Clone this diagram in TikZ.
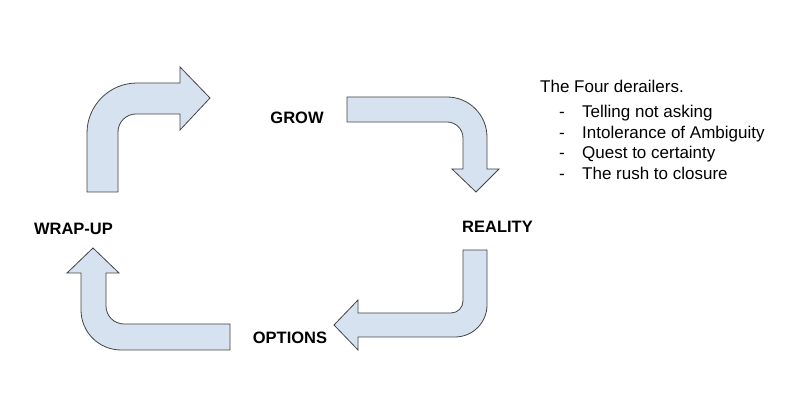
\documentclass[tikz,border=0pt]{standalone}
\usepackage{fontspec}
\setmainfont{Liberation Sans}
\definecolor{arrowfill}{HTML}{D6E2F0}
\definecolor{arrowline}{HTML}{444444}
\begin{document}
\begin{tikzpicture}[
			x=1pt, y=1pt,
			bendarrow/.style={fill=arrowfill, draw=arrowline, line width=0.8pt, line join=miter},
			stage/.style={font=\fontsize{16.5}{18}\selectfont\bfseries, inner sep=0pt},
			note/.style={font=\fontsize{17}{19}\selectfont, anchor=base west, inner sep=0pt}
		]
		\useasboundingbox (0,0) rectangle (798,406);
		\draw[bendarrow] (87,214) -- (87,273) arc[start angle=180,end angle=90,radius=50]
			-- (180,323) -- (180,339) -- (210,308) -- (180,276) -- (180,292) -- (136,292)
			arc[start angle=90,end angle=180,radius=18] -- (118,214) -- cycle;
		\draw[bendarrow] (347,309) -- (447,309) arc[start angle=90,end angle=0,radius=40]
			-- (487,237) -- (499,237) -- (476,214) -- (452,237) -- (463,237) -- (463,268)
			arc[start angle=0,end angle=90,radius=16] -- (347,284) -- cycle;
		\draw[bendarrow] (487,156) -- (487,101) arc[start angle=0,end angle=-90,radius=32]
			-- (358,69) -- (358,56) -- (334,81) -- (358,106) -- (358,93) -- (451,93)
			arc[start angle=-90,end angle=0,radius=12] -- (463,156) -- cycle;
		\draw[bendarrow] (230,56) -- (121,56) arc[start angle=-90,end angle=-180,radius=40]
			-- (81,133) -- (67,133) -- (93,158) -- (119,133) -- (106,133) -- (106,100)
			arc[start angle=180,end angle=270,radius=18] -- (230,82) -- cycle;
		\node[stage] (grow) at (297,288.5) {GROW};
		\node[stage] (reality) at (497.5,179) {REALITY};
		\node[stage] (options) at (290,68) {OPTIONS};
		\node[stage] (wrapup) at (73.5,177) {WRAP-UP};
		\node[note] (title) at (540,313) {The Four derailers.};
		\foreach \txt [count=\i] in {Telling not asking, Intolerance of Ambiguity, Quest to certainty, The rush to closure} {
				\node[note, anchor=base] (dash\i) at (562,309.5-20.8*\i) {-};
				\node[note] (item\i) at (582,309.5-20.8*\i) {\txt};
			}
	\end{tikzpicture}
\end{document}
